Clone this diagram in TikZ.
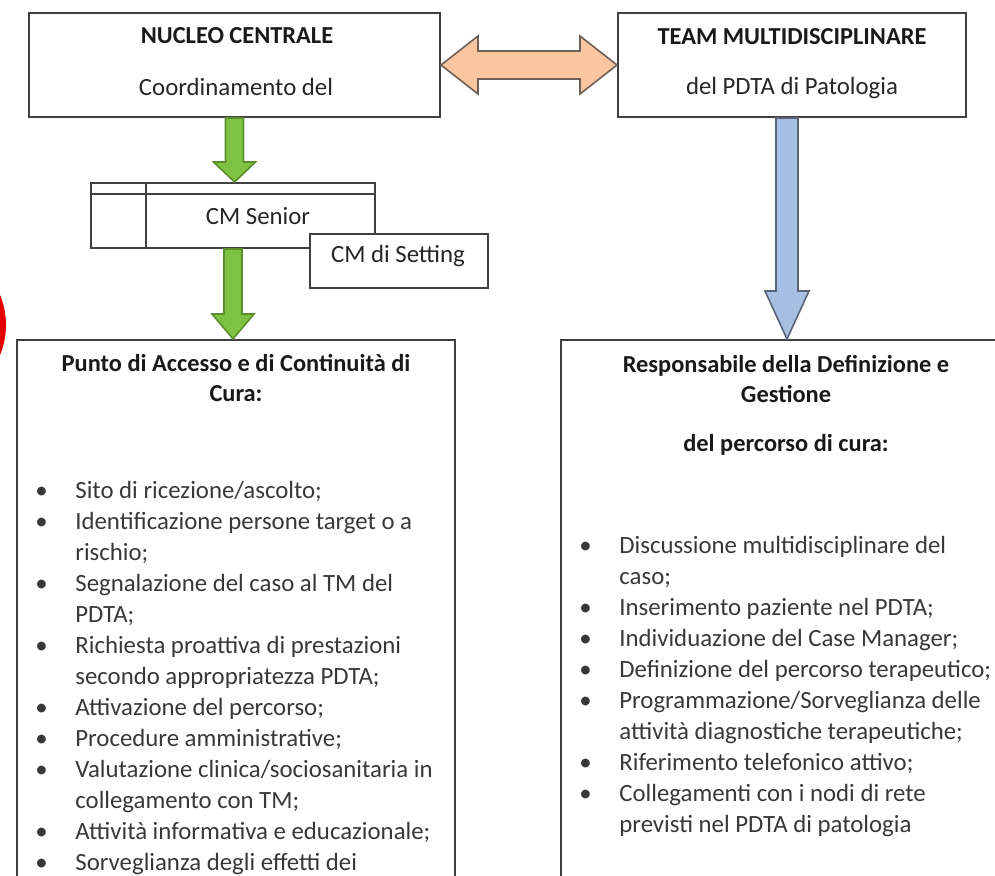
\documentclass[tikz,border=0pt]{standalone}
\usepackage{fontspec}
\setmainfont{Carlito}
\usetikzlibrary{calc}

\definecolor{arrowgreen}{HTML}{7DC242}
\definecolor{arrowgreenline}{HTML}{5B8F2E}
\definecolor{arroworange}{HTML}{F9C6A0}
\definecolor{arroworangeline}{HTML}{6E6058}
\definecolor{arrowblue}{HTML}{A8BFE4}
\definecolor{arrowblueline}{HTML}{5A6477}

\begin{document}
\begin{tikzpicture}
  [x=0.5pt, y=-0.5pt,
   box/.style={draw=black!75, line width=1pt, inner sep=0pt},
   label/.style={inner sep=0pt, font=\fontsize{12.4}{14}\selectfont, text=black!85},
   title/.style={inner sep=0pt, font=\fontsize{12.2}{15}\selectfont\bfseries, text=black!90, align=center},
   list/.style={inner sep=0pt, anchor=base west, font=\fontsize{12.4}{15.5}\selectfont, text=black!78},
   green arrow/.style={draw=arrowgreenline, fill=arrowgreen, line width=0.8pt},
   orange arrow/.style={draw=arroworangeline, fill=arroworange, line width=0.8pt},
   blue arrow/.style={draw=arrowblueline, fill=arrowblue, line width=0.8pt}]
  \useasboundingbox (0,0) rectangle (995,875);
  \clip (0,0) rectangle (995,875);

  % red mark at the left edge
  \draw[red!90!black, line width=4pt] (-72,325) circle (74);

  % boxes
  \node[box, minimum width=205.5pt, minimum height=52pt] (nucleo) at (234.5,65) {};
  \node[box, minimum width=174pt, minimum height=52pt] (team) at (792,65) {};
  \node[box, minimum width=142pt, minimum height=32.5pt] (senior) at (233,215.5) {};
  \draw[black!75, line width=1pt] ($(senior.north west)+(0,12)$) -- ($(senior.north east)+(0,12)$);
  \draw[black!75, line width=1pt] ($(senior.north west)+(56,0)$) -- ($(senior.south west)+(56,0)$);
  \node[box, fill=white, minimum width=89pt, minimum height=27pt] (setting) at (399,261) {};
  \node[box, minimum width=219pt, minimum height=269pt] (accesso) at (236,609) {};
  \node[box, minimum width=223.5pt, minimum height=270pt] (percorso) at (784.5,610) {};

  % texts
  \node[title] (nucleotitle) at (237,36) {NUCLEO CENTRALE};
  \node[label] (nucleotext) at (236,87) {Coordinamento del};
  \node[title] (teamtitle) at (792,37) {TEAM MULTIDISCIPLINARE};
  \node[label] (teamtext) at (792,88) {del PDTA di Patologia};
  \node[label] (seniortext) at (258,216) {CM Senior};
  \node[label] (settingtext) at (398,256) {CM di Setting};
  \node[title] (accessotitle) at (236,378) {Punto di Accesso e di Continuità di\\Cura:};
  \node[title] (percorsotitle) at (786,379) {Responsabile della Definizione e\\Gestione};
  \node[title] (percorsosub) at (786,445) {del percorso di cura:};

  \node[list] (accessolist) at (35,498) {\begin{tabular}[t]{@{}p{20pt}@{}l@{}}
    \textbullet & Sito di ricezione/ascolto;\\
    \textbullet & Identificazione persone target o a\\
                & rischio;\\
    \textbullet & Segnalazione del caso al TM del\\
                & PDTA;\\
    \textbullet & Richiesta proattiva di prestazioni\\
                & secondo appropriatezza PDTA;\\
    \textbullet & Attivazione del percorso;\\
    \textbullet & Procedure amministrative;\\
    \textbullet & Valutazione clinica/sociosanitaria in\\
                & collegamento con TM;\\
    \textbullet & Attività informativa e educazionale;\\
    \textbullet & Sorveglianza degli effetti dei\\
  \end{tabular}};

  \node[list] (percorsolist) at (579,553) {\begin{tabular}[t]{@{}p{20pt}@{}l@{}}
    \textbullet & Discussione multidisciplinare del\\
                & caso;\\
    \textbullet & Inserimento paziente nel PDTA;\\
    \textbullet & Individuazione del Case Manager;\\
    \textbullet & Definizione del percorso terapeutico;\\
    \textbullet & Programmazione/Sorveglianza delle\\
                & attività diagnostiche terapeutiche;\\
    \textbullet & Riferimento telefonico attivo;\\
    \textbullet & Collegamenti con i nodi di rete\\
                & previsti nel PDTA di patologia\\
  \end{tabular}};

  % block arrows
  \coordinate (g1tip) at (nucleo.south |- senior.north);
  \draw[green arrow] ($(nucleo.south)+(-9,0)$) -- ($(g1tip)+(-9,-20)$) -- ($(g1tip)+(-21,-20)$)
    -- (g1tip) -- ($(g1tip)+(21,-20)$) -- ($(g1tip)+(9,-20)$) -- ($(nucleo.south)+(9,0)$) -- cycle;
  \coordinate (g2tip) at (senior.south |- accesso.north);
  \draw[green arrow] ($(senior.south)+(-9,0)$) -- ($(g2tip)+(-9,-25)$) -- ($(g2tip)+(-21,-25)$)
    -- (g2tip) -- ($(g2tip)+(21,-25)$) -- ($(g2tip)+(9,-25)$) -- ($(senior.south)+(9,0)$) -- cycle;
  \coordinate (bbase) at ($(team.south)+(-5,0)$);
  \coordinate (btip) at (bbase |- percorso.north);
  \draw[blue arrow] ($(bbase)+(-11,0)$) -- ($(btip)+(-11,-48)$) -- ($(btip)+(-22,-48)$)
    -- (btip) -- ($(btip)+(22,-48)$) -- ($(btip)+(11,-48)$) -- ($(bbase)+(11,0)$) -- cycle;
  \draw[orange arrow] (nucleo.east) -- ++(37,-29) -- ++(0,15) -- ($(team.west)+(-37,-14)$)
    -- ++(0,-15) -- (team.west) -- ++(-37,29) -- ++(0,-15) -- ($(nucleo.east)+(37,14)$)
    -- ++(0,15) -- cycle;
\end{tikzpicture}
\end{document}
